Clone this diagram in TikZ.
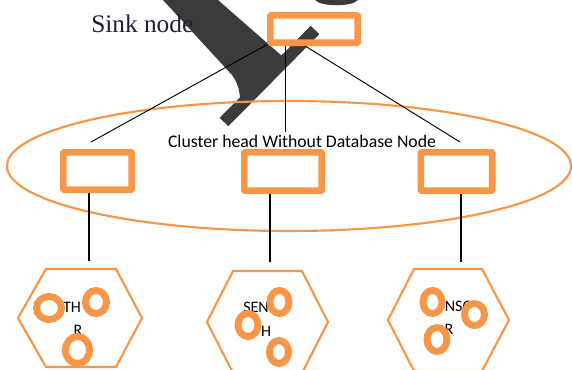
\documentclass[tikz,border=0pt]{standalone}
\usepackage{fontspec}
\setmainfont{Liberation Serif}
\newfontfamily\labelfont{Carlito}
\definecolor{boxorange}{HTML}{F79646}
\definecolor{markgray}{HTML}{3B3B3B}
\definecolor{inkdark}{HTML}{1E2030}
\tikzset{
  obox/.style={draw=boxorange, line width=5pt, inner sep=0pt, outer sep=0pt, rounded corners=0.6pt},
  link/.style={draw=black, line width=0.7pt},
  drop/.style={draw=black, line width=1pt},
  hexline/.style={draw=boxorange, line width=1.6pt, line join=round},
  ring/.style={draw=boxorange, fill=white, line width=5.2pt},
  hexlabel/.style={font=\labelfont\fontsize{12}{13}\selectfont, inner sep=0pt, text=black},
}
\begin{document}
\begin{tikzpicture}[x=0.75pt, y=-0.75pt]
\useasboundingbox (0,0) rectangle (572,369);
\clip (0,0) rectangle (572,369);

% dark overlay mark in the upper part
\fill[markgray] (163,0) -- (232,75) .. controls (238,83) and (240,92) .. (240,100)
  -- (282,56) -- (218,0) -- cycle;
\draw[markgray, line width=9pt] (315,30) -- (224,122);
\fill[markgray] (315,0) .. controls (321,7) and (352,7) .. (358,0) -- cycle;

% cluster ellipse
\draw[boxorange, line width=1.6pt] (289,166) ellipse [x radius=282, y radius=65];

% link end points
\coordinate (s1) at (268,44);
\coordinate (s2) at (285,44);
\coordinate (s3) at (302,44);
\coordinate (e1) at (91,142);
\coordinate (e2) at (285,132);
\coordinate (e3) at (460,142);
\coordinate (d1a) at (89,192);  \coordinate (d1b) at (89,261);
\coordinate (d2a) at (270,193); \coordinate (d2b) at (270,262);
\coordinate (d3a) at (461,193); \coordinate (d3b) at (461,262);

\draw[link] (s1) -- (e1);
\draw[link] (s2) -- (e2);
\draw[link] (s3) -- (e3);
\draw[drop] (d1a) -- (d1b);
\draw[drop] (d2a) -- (d2b);
\draw[drop] (d3a) -- (d3b);

% sink node and cluster heads
\node[obox, minimum width=65.5pt, minimum height=20.5pt] (sink) at (314,29) {};
\node[obox, minimum width=51.2pt, minimum height=28pt] (ch1) at (97.5,171) {};
\node[obox, minimum width=58pt, minimum height=28.7pt] (ch2) at (283,171.5) {};
\node[obox, minimum width=53.5pt, minimum height=28.7pt] (ch3) at (456.5,171.5) {};

% labels
\node[anchor=base west, inner sep=0pt, text=inkdark, font=\fontsize{19}{22}\selectfont] (sinklabel) at (91,32) {Sink node};
\node[font=\labelfont\fontsize{13.3}{15}\selectfont, inner sep=0pt] (cluslabel) at (302,141) {Cluster head Without Database Node};

% sensor regions
\draw[hexline] (46,269) -- (116,269) -- (142,318) -- (116,367) -- (46,367) -- (18,318) -- cycle;
\draw[hexline] (233,271) -- (302,271) -- (328,322) -- (302,373) -- (233,373) -- (207,322) -- cycle;
\draw[hexline] (414,269) -- (482,269) -- (509,320) -- (482,371) -- (414,371) -- (388,320) -- cycle;

\node[hexlabel] (t1a) at (72,307) {TH};
\node[hexlabel] (t1b) at (78,330) {R};
\node[hexlabel] (t2a) at (256,307) {SEN};
\node[hexlabel] (t2b) at (266,331) {H};
\node[hexlabel] (t3a) at (459,306) {NSO};
\node[hexlabel] (t3b) at (449,329) {R};

% sensor nodes
\draw[ring] (49,308) ellipse [x radius=12.5, y radius=11.5];
\draw[ring] (96,302) ellipse [x radius=10.5, y radius=11.5];
\draw[ring] (77.5,350) ellipse [x radius=12, y radius=13.5];

\draw[ring] (279.5,302) ellipse [x radius=9.5, y radius=11.5];
\draw[ring] (248,325) ellipse [x radius=10, y radius=11.5];
\draw[ring] (279,352) ellipse [x radius=9.5, y radius=11.5];

\draw[ring] (432.5,302) ellipse [x radius=9.5, y radius=11.5];
\draw[ring] (474.5,314.5) ellipse [x radius=10, y radius=11];
\draw[ring] (437,339.5) ellipse [x radius=10, y radius=12];
\end{tikzpicture}
\end{document}
